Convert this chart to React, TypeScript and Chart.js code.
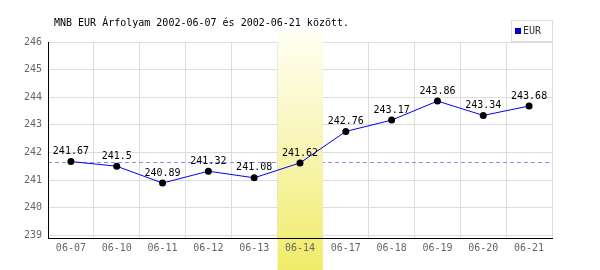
import React, { useEffect, useRef } from "react";
import { Chart, registerables } from "chart.js";

Chart.register(...registerables);

const categories = ["06-07", "06-10", "06-11", "06-12", "06-13", "06-14", "06-17", "06-18", "06-19", "06-20", "06-21"];
const eurValues = [241.67, 241.5, 240.89, 241.32, 241.08, 241.62, 242.76, 243.17, 243.86, 243.34, 243.68];
const yTickValues = [239, 240, 241, 242, 243, 244, 245, 246];
const referenceValue = 241.64;
const highlightIndex = 5;
const titleText = "MNB EUR Árfolyam 2002-06-07 és 2002-06-21 között.";
const legendLabel = "EUR";

const MONO = '"DejaVu Sans Mono", "Liberation Mono", monospace';

const decorPlugin = {
  id: "decor",
  beforeDatasetsDraw(chart: any) {
    const { ctx, chartArea, scales } = chart;
    const x = scales.x;
    const y = scales.y;
    // reference dashed line
    const ry = Math.round(y.getPixelForValue(referenceValue)) + 0.5;
    ctx.save();
    ctx.strokeStyle = "#8c8cff";
    ctx.lineWidth = 1;
    ctx.setLineDash([4, 3]);
    ctx.beginPath();
    ctx.moveTo(chartArea.left, ry);
    ctx.lineTo(chartArea.right - 3, ry);
    ctx.stroke();
    ctx.restore();
    // highlight band
    const cx = x.getPixelForValue(highlightIndex);
    const bw = (chartArea.right - chartArea.left) / categories.length;
    const left = cx - bw / 2 + 0.5;
    const top = 30;
    const bottom = chart.height;
    const g = ctx.createLinearGradient(0, top, 0, bottom);
    g.addColorStop(0, "#fffff4");
    g.addColorStop(0.5, "#f8f5b4");
    g.addColorStop(1, "#f0ec68");
    ctx.save();
    ctx.fillStyle = g;
    ctx.fillRect(left, top, bw - 0.5, bottom - top);
    ctx.restore();
  },
  afterDatasetsDraw(chart: any) {
    const { ctx } = chart;
    const meta = chart.getDatasetMeta(0);
    ctx.save();
    ctx.font = "10px " + MONO;
    ctx.fillStyle = "#000";
    ctx.textAlign = "center";
    ctx.textBaseline = "middle";
    meta.data.forEach((pt: any, i: number) => {
      ctx.fillText(String(eurValues[i]), pt.x, pt.y - 10);
    });
    ctx.restore();
  },
  afterDraw(chart: any) {
    const { ctx } = chart;
    ctx.save();
    ctx.font = "10px " + MONO;
    ctx.fillStyle = "#000";
    ctx.textAlign = "left";
    ctx.textBaseline = "middle";
    ctx.fillText(titleText, 54, 23);
    // legend
    ctx.strokeStyle = "#dddddd";
    ctx.lineWidth = 1;
    ctx.strokeRect(511.5, 20.5, 41, 21);
    ctx.fillStyle = "#0000ff";
    ctx.fillRect(515, 28, 6, 6);
    ctx.strokeStyle = "#000088";
    ctx.strokeRect(515.5, 28.5, 5, 5);
    ctx.fillStyle = "#333";
    ctx.fillText(legendLabel, 523, 31.5);
    ctx.restore();
  },
};

export default function App() {
  const ref = useRef<HTMLCanvasElement>(null);
  useEffect(() => {
    if (!ref.current) return;
    const chart = new Chart(ref.current, {
      type: "line",
      data: {
        labels: categories,
        datasets: [
          {
            label: legendLabel,
            data: eurValues,
            borderColor: "#0000ff",
            borderWidth: 1,
            backgroundColor: "#000",
            pointBackgroundColor: "#000",
            pointBorderColor: "#000",
            pointRadius: 3.5,
            pointBorderWidth: 0,
            tension: 0,
            fill: false,
          },
        ],
      },
      options: {
        animation: false,
        responsive: true,
        maintainAspectRatio: false,
        layout: { padding: { top: 42, right: 48, left: 0, bottom: 0 } },
        plugins: {
          legend: { display: false },
          title: { display: false },
          tooltip: { enabled: false },
        },
        scales: {
          x: {
            offset: true,
            afterFit: (s: any) => { s.height = 32; },
            grid: { color: "#dddddd", offset: true, drawTicks: false, lineWidth: 1 },
            border: { display: true, color: "#000", width: 1, z: 1 },
            ticks: {
              z: 1,
              padding: 4,
              color: "#666",
              font: { family: MONO, size: 10 },
              maxRotation: 0,
              autoSkip: false,
            },
          },
          y: {
            min: 238.9,
            max: 246,
            afterFit: (s: any) => { s.width = 48; },
            afterBuildTicks: (s: any) => { s.ticks = yTickValues.map((v) => ({ value: v })); },
            grid: { color: "#dddddd", drawTicks: false, lineWidth: 1 },
            border: { display: true, color: "#000", width: 1, z: 1 },
            ticks: {
              z: 1,
              padding: 6,
              color: "#666",
              font: { family: MONO, size: 10 },
            },
          },
        },
      },
      plugins: [decorPlugin],
    });
    return () => chart.destroy();
  }, []);
  return (
    <div style={{ position: "fixed", left: 0, top: 0, width: 600, height: 270, background: "#fff" }}>
      <canvas ref={ref} />
    </div>
  );
}
